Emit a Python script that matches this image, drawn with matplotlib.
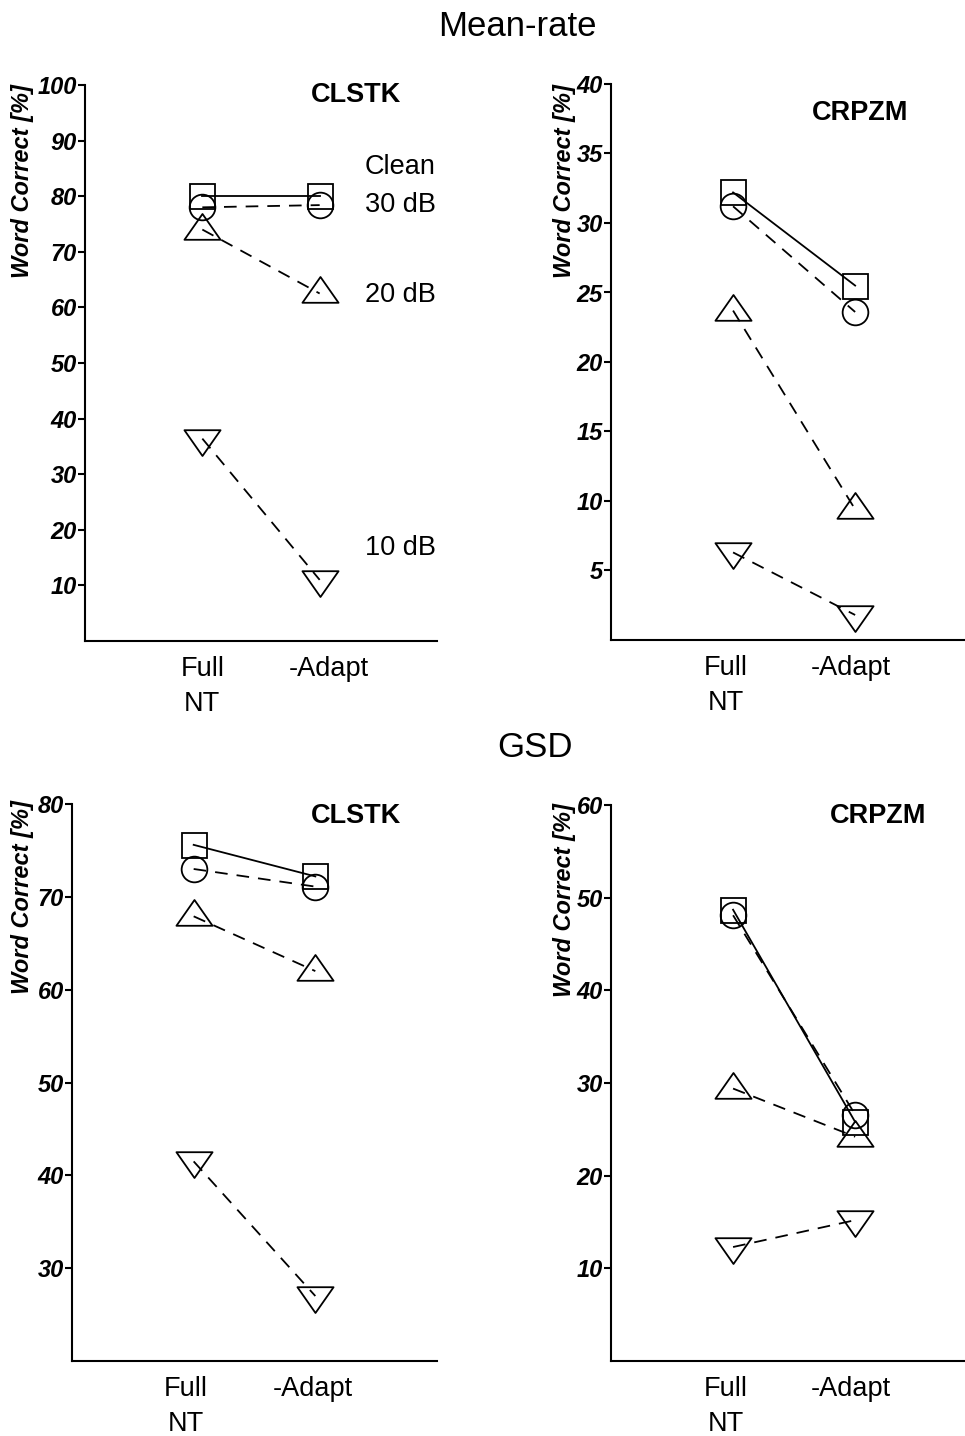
import numpy as np
import matplotlib
matplotlib.use("Agg")
import matplotlib.pyplot as plt
import matplotlib.transforms as mtransforms
from matplotlib.path import Path

plt.rcParams['font.family'] = ['Liberation Sans', 'DejaVu Sans']

# ---------- data ----------
conditions = ["Full\nNT", "-Adapt"]
xpos = [1, 2]
noise = ["Clean", "30 dB", "20 dB", "10 dB"]

# rows follow `noise`, columns follow `conditions`
mr_clstk = [[80.0, 80.0], [78.0, 78.4], [74.0, 62.5], [36.4, 11.0]]
mr_crpzm = [[32.2, 25.5], [31.2, 23.6], [23.7, 9.4], [6.3, 1.8]]
gsd_clstk = [[75.6, 72.2], [73.0, 71.1], [67.9, 62.0], [41.5, 27.0]]
gsd_crpzm = [[48.7, 25.8], [48.1, 26.6], [29.4, 24.2], [12.3, 15.2]]

mr_clstk_ticks = [10, 20, 30, 40, 50, 60, 70, 80, 90, 100]
mr_crpzm_ticks = [5, 10, 15, 20, 25, 30, 35, 40]
gsd_clstk_ticks = [30, 40, 50, 60, 70, 80]
gsd_crpzm_ticks = [10, 20, 30, 40, 50, 60]

# ---------- layout ----------
W, H = 965, 1436
fig = plt.figure(figsize=(W / 100, H / 100), dpi=100)


def box(l, r, t, b):
    return [l / W, 1 - b / H, (r - l) / W, (b - t) / H]


def ftext(x, y, s, **kw):
    fig.text(x / W, 1 - y / H, s, **kw)


# matlab-ish triangles, centred on the centroid
tri_up = Path([(0, 16), (-17.5, -9), (17.5, -9), (0, 16)], closed=True)
tri_dn = Path([(0, -16), (-17.5, 9), (17.5, 9), (0, -16)], closed=True)

dash = (0, (7, 5))
styles = [
    dict(ls='-', marker='s', ms=18),
    dict(ls=dash, marker='o', ms=18.5),
    dict(ls=dash, marker=tri_up, ms=26),
    dict(ls=dash, marker=tri_dn, ms=26),
]


def panel(rect, data, ticks, ylim, xmax, xshift):
    ax = fig.add_axes(rect)
    for vals, st in zip(data, styles):
        ax.plot(xpos, vals, color='k', lw=1.3, mfc='none', mec='k', mew=1.3,
                clip_on=False, **st)
    ax.set_xlim(0, xmax)
    ax.set_ylim(*ylim)
    ax.set_yticks(ticks)
    ax.set_yticklabels([str(t) for t in ticks], fontsize=17,
                       fontweight='bold', fontstyle='italic')
    ax.set_xticks(xpos)
    ax.set_xticklabels(conditions, fontsize=19.5, linespacing=1.45)
    ax.tick_params(axis='x', length=0, pad=11)
    ax.tick_params(axis='y', direction='out', length=5, width=1.5, pad=1)
    # small horizontal nudges of the condition labels (pixels)
    for lab, dx in zip(ax.get_xticklabels(), xshift):
        off = mtransforms.ScaledTranslation(dx / 100, 0, fig.dpi_scale_trans)
        lab.set_transform(lab.get_transform() + off)
    for s in ['top', 'right']:
        ax.spines[s].set_visible(False)
    for s in ['left', 'bottom']:
        ax.spines[s].set_linewidth(1.5)
    return ax


panel(box(85, 437, 85, 641), mr_clstk, mr_clstk_ticks, (0, 100), 3, (0, 9))
panel(box(611, 965, 84, 640), mr_crpzm, mr_crpzm_ticks, (0, 40), 2.9, (-7, -4))
panel(box(72, 437, 804, 1361), gsd_clstk, gsd_clstk_ticks, (20, 80), 3, (-8, -3))
panel(box(611, 965, 805, 1361), gsd_crpzm, gsd_crpzm_ticks, (0, 60), 2.9, (-7, -4))

# titles
ftext(517, 36, "Mean-rate", fontsize=25, ha='center', va='baseline')
ftext(535, 757, "GSD", fontsize=25, ha='center', va='baseline')
ftext(356, 102, "CLSTK", fontsize=19.5, fontweight='bold', ha='center', va='baseline')
ftext(860, 120, "CRPZM", fontsize=19.5, fontweight='bold', ha='center', va='baseline')
ftext(356, 823, "CLSTK", fontsize=19.5, fontweight='bold', ha='center', va='baseline')
ftext(878, 823, "CRPZM", fontsize=19.5, fontweight='bold', ha='center', va='baseline')

# y labels
for x, y in [(23, 84), (565, 84), (23, 800), (565, 803)]:
    ftext(x, y, "Word Correct [%]", fontsize=17, fontweight='bold',
          fontstyle='italic', rotation=90, ha='center', va='top')

# noise level labels
for lab, y in zip(noise, [174, 212, 302, 555]):
    ftext(365, y, lab, fontsize=19.5, ha='left', va='baseline')

fig.savefig("out.png", dpi=100)
